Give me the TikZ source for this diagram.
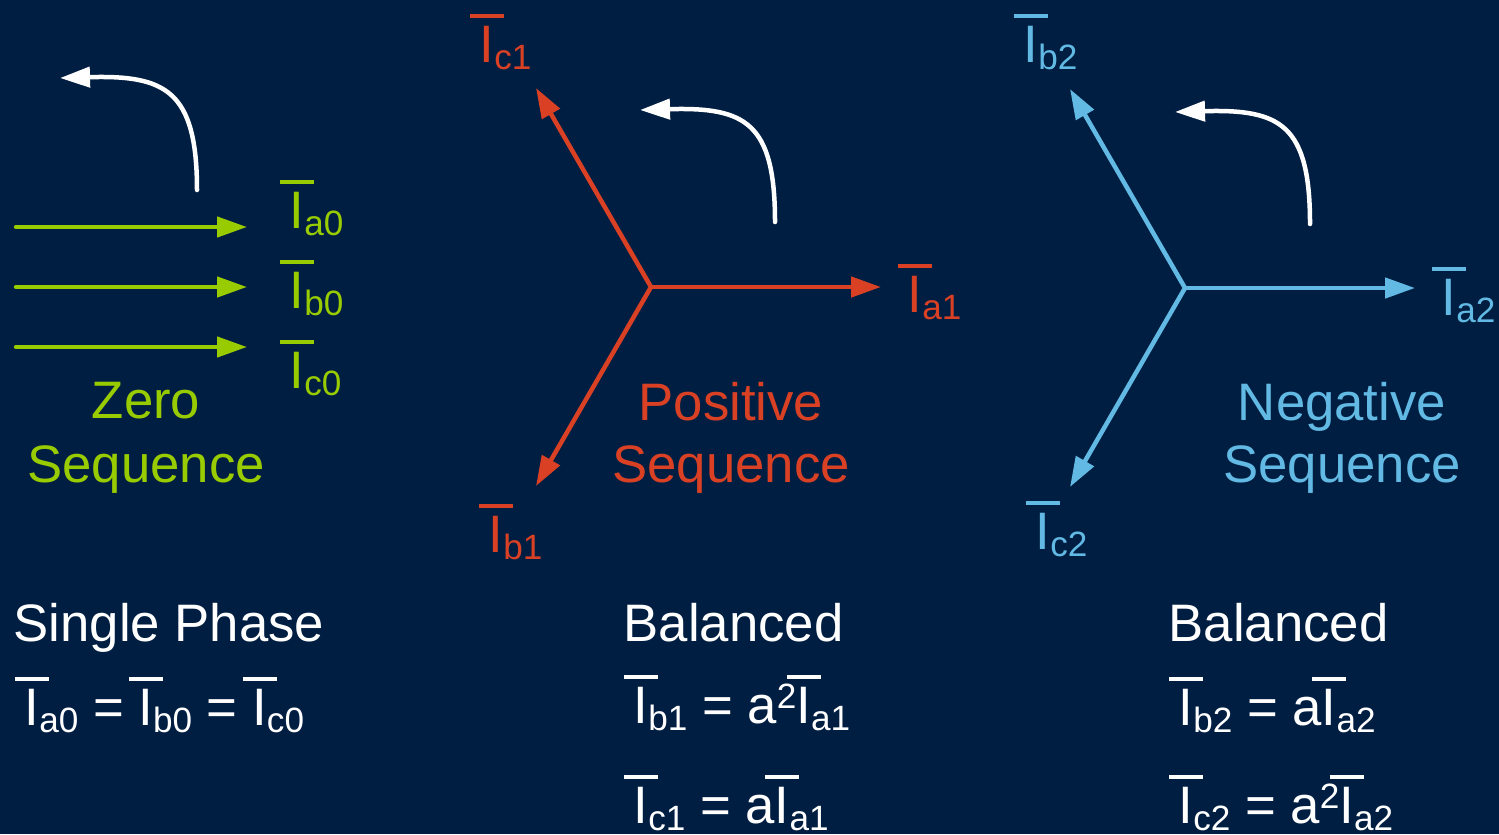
\documentclass[tikz,border=0pt]{standalone}
\usepackage{fontspec}
\setmainfont{Liberation Sans}
\usepackage{tikz}
\usetikzlibrary{arrows.meta}
\definecolor{navybg}{RGB}{0,30,66}
\definecolor{zerogreen}{RGB}{153,204,0}
\definecolor{posred}{RGB}{218,65,36}
\definecolor{negblue}{RGB}{98,186,228}
% phasor I with bar and subscript
\newcommand{\phI}[1]{{\ooalign{\hidewidth\rule[0.84em]{0.64em}{0.075em}\hidewidth\cr I\cr}}\raisebox{-2pt}{\fontsize{10}{12}\selectfont #1}}
\newcommand{\sqr}{\raisebox{4pt}{\fontsize{10}{12}\selectfont 2}}

\begin{document}
\begin{tikzpicture}[
    vec/.style={
        line width=0.045cm,
        line cap=round,
        -{Triangle[length=0.3cm,width=0.2cm]}
    },
    turn/.style={vec, draw=white},
    lbl/.style={
        inner sep=0,
        anchor=base west,
        font=\fontsize{15}{18}\selectfont
    },
    seq/.style={
        inner sep=0,
        anchor=base,
        font=\fontsize{15}{18}\selectfont
    }
]

\path[use as bounding box, fill=navybg] (0,0) rectangle (14.99,-8.34);

% ZERO SEQUENCE
\coordinate (a0s) at (0.16,-2.27);
\coordinate (a0e) at (2.47,-2.27);
\coordinate (b0s) at (0.16,-2.87);
\coordinate (b0e) at (2.47,-2.87);
\coordinate (c0s) at (0.16,-3.47);
\coordinate (c0e) at (2.47,-3.47);

\draw[vec, zerogreen] (a0s) -- (a0e);
\draw[vec, zerogreen] (b0s) -- (b0e);
\draw[vec, zerogreen] (c0s) -- (c0e);

\node[lbl, zerogreen] (la0) at (2.89,-2.28) {\phI{a0}};
\node[lbl, zerogreen] (lb0) at (2.89,-3.08) {\phI{b0}};
\node[lbl, zerogreen] (lc0) at (2.89,-3.88) {\phI{c0}};

\coordinate (zt0) at (1.97,-1.90);
\coordinate (zt1) at (0.60,-0.78);
\draw[turn] (zt0) .. controls +(0,1.0) and +(1.05,0.03) .. (zt1);

\node[seq, zerogreen] (zname) at (1.46,-4.18) {Zero};
\node[seq, zerogreen] (zseq)  at (1.46,-4.82) {Sequence};

% POSITIVE SEQUENCE
\coordinate (pc) at (6.51,-2.87);
\coordinate (pa) at (8.81,-2.87);
\coordinate (pb) at (5.36,-4.86);
\coordinate (pcc) at (5.36,-0.88);

\draw[vec, posred] (pc) -- (pa);
\draw[vec, posred] (pc) -- (pb);
\draw[vec, posred] (pc) -- (pcc);

\node[lbl, posred] (la1) at (9.07,-3.12) {\phI{a1}};
\node[lbl, posred] (lb1) at (4.88,-5.52) {\phI{b1}};
\node[lbl, posred] (lc1) at (4.79,-0.62) {\phI{c1}};

\coordinate (pt0) at (7.75,-2.22);
\coordinate (pt1) at (6.40,-1.10);
\draw[turn] (pt0) .. controls +(0,1.0) and +(1.05,0.03) .. (pt1);

\node[seq, posred] (pname) at (7.31,-4.20) {Positive};
\node[seq, posred] (pseq)  at (7.31,-4.82) {Sequence};

% NEGATIVE SEQUENCE
\coordinate (nc) at (11.85,-2.88);
\coordinate (na) at (14.15,-2.88);
\coordinate (nb) at (10.70,-0.89);
\coordinate (ncc) at (10.70,-4.87);

\draw[vec, negblue] (nc) -- (na);
\draw[vec, negblue] (nc) -- (nb);
\draw[vec, negblue] (nc) -- (ncc);

\node[lbl, negblue] (la2) at (14.41,-3.15) {\phI{a2}};
\node[lbl, negblue] (lb2) at (10.23,-0.62) {\phI{b2}};
\node[lbl, negblue] (lc2) at (10.35,-5.49) {\phI{c2}};

\coordinate (nt0) at (13.10,-2.24);
\coordinate (nt1) at (11.75,-1.12);
\draw[turn] (nt0) .. controls +(0,1.0) and +(1.05,0.03) .. (nt1);

\node[seq, negblue] (nname) at (13.42,-4.20) {Negative};
\node[seq, negblue] (nseq)  at (13.42,-4.82) {Sequence};

% RELATIONS
\node[lbl, white] (single) at (0.13,-6.41) {Single Phase};
\node[lbl, white] (eqz) at (0.24,-7.25) {\phI{a0} = \phI{b0} = \phI{c0}};

\node[lbl, white] (balp) at (6.23,-6.41) {Balanced};
\node[lbl, white] (eqp1) at (6.33,-7.23) {\phI{b1} = a\sqr\phI{a1}};
\node[lbl, white] (eqp2) at (6.33,-8.23) {\phI{c1} = a\phI{a1}};

\node[lbl, white] (baln) at (11.68,-6.41) {Balanced};
\node[lbl, white] (eqn1) at (11.78,-7.25) {\phI{b2} = a\phI{a2}};
\node[lbl, white] (eqn2) at (11.78,-8.23) {\phI{c2} = a\sqr\phI{a2}};

\end{tikzpicture}
\end{document}
